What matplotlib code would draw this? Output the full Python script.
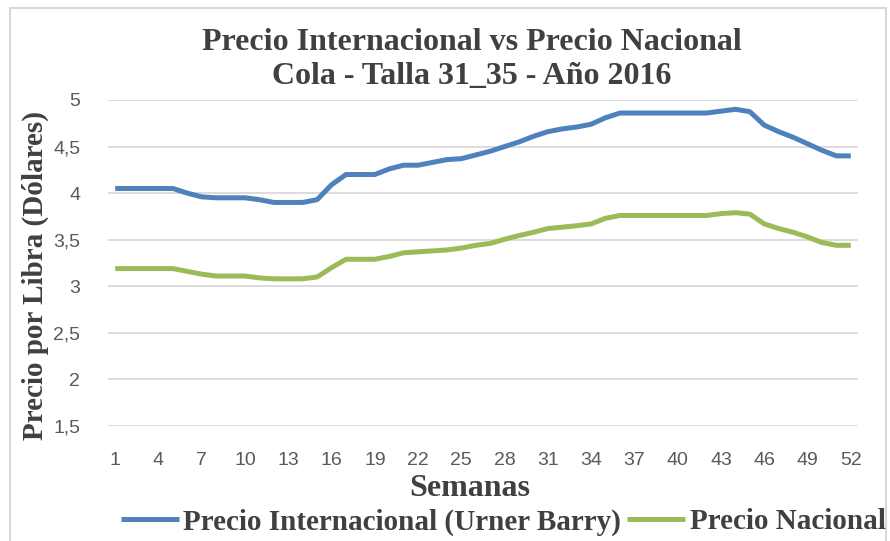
import matplotlib
matplotlib.use("Agg")
import matplotlib.pyplot as plt
from matplotlib.patches import Rectangle

# Weekly prices (USD per pound), 2016
semanas = list(range(1, 53))
precio_internacional = [
    4.05, 4.05, 4.05, 4.05, 4.05, 4.00, 3.96, 3.95, 3.95, 3.95,
    3.93, 3.90, 3.90, 3.90, 3.93, 4.09, 4.20, 4.20, 4.20, 4.26,
    4.30, 4.30, 4.33, 4.36, 4.37, 4.41, 4.45, 4.50, 4.55, 4.61,
    4.66, 4.69, 4.71, 4.74, 4.81, 4.86, 4.86, 4.86, 4.86, 4.86,
    4.86, 4.86, 4.88, 4.90, 4.875, 4.73, 4.66, 4.60, 4.53, 4.46,
    4.40, 4.40,
]
precio_nacional = [
    3.19, 3.19, 3.19, 3.19, 3.19, 3.16, 3.13, 3.11, 3.11, 3.11,
    3.09, 3.08, 3.08, 3.08, 3.10, 3.20, 3.29, 3.29, 3.29, 3.32,
    3.36, 3.37, 3.38, 3.39, 3.41, 3.44, 3.46, 3.505, 3.545, 3.58,
    3.62, 3.635, 3.65, 3.67, 3.73, 3.76, 3.76, 3.76, 3.76, 3.76,
    3.76, 3.76, 3.78, 3.79, 3.775, 3.67, 3.62, 3.58, 3.53, 3.47,
    3.44, 3.44,
]
yticks = [1.5, 2, 2.5, 3, 3.5, 4, 4.5, 5]
ytick_labels = ["1,5", "2", "2,5", "3", "3,5", "4", "4,5", "5"]
xticks = list(range(1, 53, 3))

serif = ["Liberation Serif", "DejaVu Serif"]
sans = ["Liberation Sans Narrow", "Liberation Sans", "DejaVu Sans"]
text_col = "#404040"
tick_col = "#595959"

fig = plt.figure(figsize=(8.9, 5.41), dpi=100)
fig.patches.append(Rectangle((10 / 890, -0.1), 876 / 890, 1.1 - 8 / 541,
                             transform=fig.transFigure, fill=False,
                             edgecolor="#d9d9d9", linewidth=1.5))

ax = fig.add_axes([108 / 890, 1 - 426 / 541, 750 / 890, 326 / 541])
ax.plot(semanas, precio_internacional, color="#4f81bd", linewidth=3.6,
        label="Precio Internacional (Urner Barry)", solid_capstyle="butt")
ax.plot(semanas, precio_nacional, color="#9bbb59", linewidth=3.6,
        label="Precio Nacional", solid_capstyle="butt")

ax.set_xlim(0.5, 52.5)
ax.set_ylim(1.5, 5)
ax.set_yticks(yticks)
ax.set_yticklabels(ytick_labels)
ax.set_xticks(xticks)
ax.grid(axis="y", color="#d9d9d9", linewidth=1.3)
ax.set_axisbelow(True)
for s in ax.spines.values():
    s.set_visible(False)
ax.tick_params(length=0, colors=tick_col, labelsize=14)
ax.tick_params(axis="y", pad=20)
ax.tick_params(axis="x", pad=19)
for lab in ax.get_xticklabels() + ax.get_yticklabels():
    lab.set_family(sans)

fig.text(472 / 890, 1 - 43 / 541, "Precio Internacional vs Precio Nacional",
         ha="center", va="center", family=serif, weight="bold",
         fontsize=23, color=text_col)
fig.text(472 / 890, 1 - 77 / 541, "Cola - Talla 31_35 - Año 2016",
         ha="center", va="center", family=serif, weight="bold",
         fontsize=23, color=text_col)
fig.text(35 / 890, 1 - 276 / 541, "Precio por Libra (Dólares)",
         ha="center", va="center", rotation=90, family=serif,
         weight="bold", fontsize=21, color=text_col)
fig.text(470 / 890, 1 - 489 / 541, "Semanas", ha="center", va="center",
         family=serif, weight="bold", fontsize=23, color=text_col)

leg = fig.legend(loc="center", bbox_to_anchor=(503 / 890, 1 - 522 / 541),
                 ncol=2, frameon=False, handlelength=2.0, handletextpad=0.15,
                 columnspacing=0.2, borderpad=0,
                 prop={"family": serif, "weight": "bold", "size": 21})
for t in leg.get_texts():
    t.set_color(text_col)

fig.savefig("out.png", dpi=100)
